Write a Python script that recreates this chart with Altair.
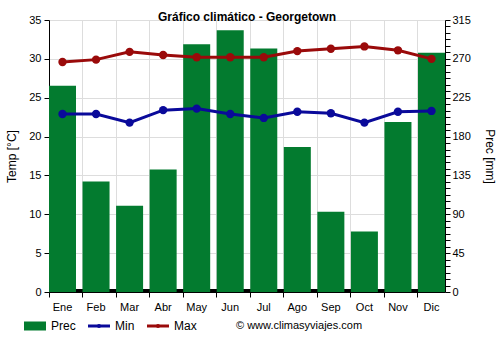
import altair as alt
import pandas as pd

months = ["Ene", "Feb", "Mar", "Abr", "May", "Jun", "Jul", "Ago", "Sep", "Oct", "Nov", "Dic"]
prec = [239, 128, 100, 142, 287, 303, 282, 168, 93, 70, 197, 277]
tmin = [22.9, 22.9, 21.8, 23.4, 23.6, 22.9, 22.4, 23.2, 23.0, 21.8, 23.2, 23.3]
tmax = [29.6, 29.9, 30.9, 30.5, 30.2, 30.2, 30.2, 31.0, 31.3, 31.6, 31.1, 30.0]
temp_ticks = [0, 5, 10, 15, 20, 25, 30, 35]
prec_ticks = [i * 7.5 for i in range(43)]

W, H = 396, 272
FONT = "Liberation Sans"
GREEN = "#037b2f"
BLUE = "#0a0a9a"
RED = "#9a0a0a"

df_prec = pd.DataFrame({"Mes": months, "Prec": prec})
df_temp = pd.DataFrame({
    "Mes": months * 2,
    "Serie": ["Min"] * 12 + ["Max"] * 12,
    "Temp": tmin + tmax,
})
one = alt.Data(values=[{"k": 1}])

xscale = alt.Scale(domain=months, paddingInner=0.195, paddingOuter=0)
xaxis = alt.Axis(title=None, bandPosition=0, grid=True, gridColor="#dddddd",
                 domainColor="black", tickColor="black", tickSize=5,
                 labelAngle=0, labelColor="black", labelFontSize=11,
                 labelPadding=4, labelFont=FONT)
X = alt.X("Mes:N", scale=xscale, axis=xaxis, sort=months)

strip = alt.Chart(one).mark_rule(color="black", strokeWidth=3).encode(
    x=alt.value(0), x2=alt.value(W), y=alt.value(H - 1.5))

bars = alt.Chart(df_prec).mark_bar(color=GREEN).encode(
    x=X,
    y=alt.Y("Prec:Q", scale=alt.Scale(domain=[0, 315], nice=False, zero=True),
            axis=alt.Axis(orient="right", values=prec_ticks,
                          labelExpr="datum.value % 45 == 0 ? datum.value : ''",
                          labelOverlap=False, title="Prec [mm]", titleAngle=90,
                          grid=False, domainColor="black", tickColor="black",
                          tickSize=5, labelColor="black", labelFontSize=11,
                          labelPadding=2, titleFontSize=12, titleFontWeight="normal",
                          titleColor="black", titlePadding=12, labelFont=FONT,
                          titleFont=FONT)),
)

color = alt.Color("Serie:N", scale=alt.Scale(domain=["Min", "Max"], range=[BLUE, RED]),
                  legend=None)
base = alt.Chart(df_temp).encode(
    x=X,
    y=alt.Y("Temp:Q", scale=alt.Scale(domain=[0, 35], nice=False),
            axis=alt.Axis(orient="left", values=temp_ticks, title="Temp [°C]",
                          grid=True, gridColor="#dddddd", domainColor="black",
                          tickColor="black", tickSize=5, labelColor="black",
                          labelFontSize=11, labelPadding=3, titleFontSize=12,
                          titleFontWeight="normal", titleColor="black",
                          titlePadding=10, labelFont=FONT, titleFont=FONT)),
    color=color,
)
temp = alt.layer(
    base.mark_line(strokeWidth=3),
    base.mark_point(filled=True, size=70, opacity=1),
)

LY = H + 34  # legend row (pixel offset below plot top)
legend = [
    alt.Chart(one).mark_rect(color=GREEN).encode(
        x=alt.value(-25), x2=alt.value(-3), y=alt.value(LY - 4.5), y2=alt.value(LY + 4.5)),
    alt.Chart(one).mark_text(align="left", baseline="middle", fontSize=12, font=FONT, color="black").encode(
        x=alt.value(2), y=alt.value(LY), text=alt.value("Prec")),
    alt.Chart(one).mark_rule(color=BLUE, strokeWidth=3).encode(
        x=alt.value(39), x2=alt.value(61), y=alt.value(LY)),
    alt.Chart(one).mark_point(color=BLUE, filled=True, size=16, opacity=1).encode(
        x=alt.value(50), y=alt.value(LY)),
    alt.Chart(one).mark_text(align="left", baseline="middle", fontSize=12, font=FONT, color="black").encode(
        x=alt.value(66), y=alt.value(LY), text=alt.value("Min")),
    alt.Chart(one).mark_rule(color=RED, strokeWidth=3).encode(
        x=alt.value(98), x2=alt.value(120), y=alt.value(LY)),
    alt.Chart(one).mark_point(color=RED, filled=True, size=16, opacity=1).encode(
        x=alt.value(109), y=alt.value(LY)),
    alt.Chart(one).mark_text(align="left", baseline="middle", fontSize=12, font=FONT, color="black").encode(
        x=alt.value(125), y=alt.value(LY), text=alt.value("Max")),
    alt.Chart(one).mark_text(align="left", baseline="middle", fontSize=11, font=FONT, color="black").encode(
        x=alt.value(187), y=alt.value(LY), text=alt.value("© www.climasyviajes.com")),
]

main = alt.layer(alt.layer(strip, bars), temp).resolve_scale(y="independent")

chart = alt.layer(main, *legend).properties(
    width=W, height=H,
    title=alt.Title("Gráfico climático - Georgetown", fontSize=12, fontWeight="bold",
                    font=FONT, color="black", offset=-10, anchor="middle"),
    autosize=alt.AutoSizeParams(type="none"),
    padding={"left": 49, "top": 20, "right": 55, "bottom": 58},
).configure_view(strokeWidth=0).configure(font=FONT)

chart.save("out.html", embed_options={"renderer": "svg", "actions": False})
